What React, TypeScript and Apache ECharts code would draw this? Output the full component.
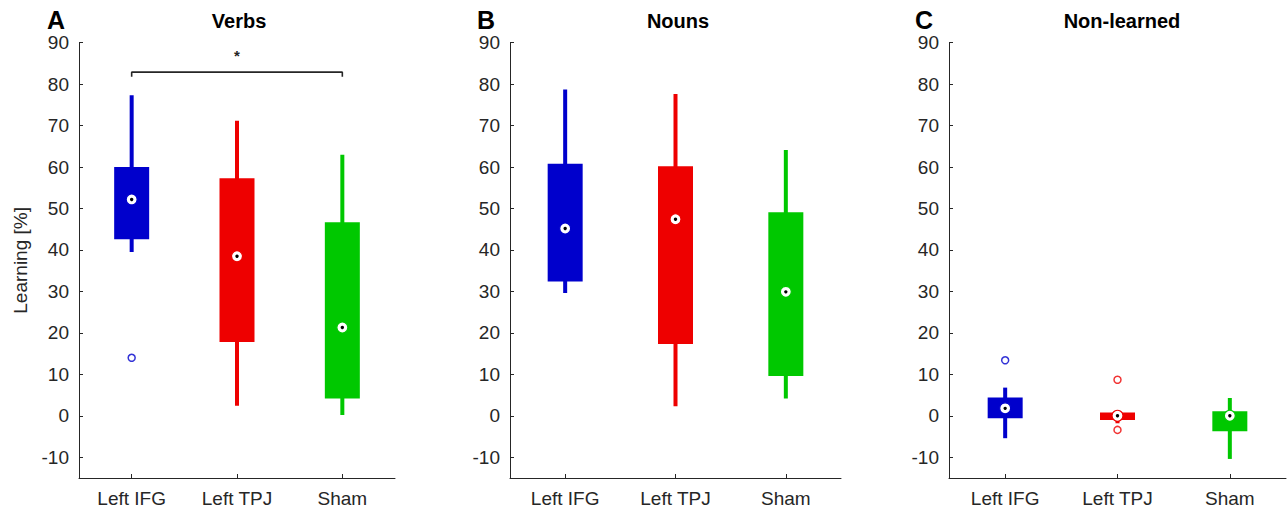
import React, { useEffect, useRef } from "react";
import * as echarts from "echarts";

const categories = ["Left IFG", "Left TPJ", "Sham"];
const groupColors = ["#0000CC", "#EE0000", "#00C800"];
const yTicks = [-10, 0, 10, 20, 30, 40, 50, 60, 70, 80, 90];

// Verbs
const verbsLow = [39.5, 2.4, 0.2];
const verbsQ1 = [42.6, 17.8, 4.2];
const verbsMedian = [52.2, 38.5, 21.3];
const verbsQ3 = [60.0, 57.3, 46.7];
const verbsHigh = [77.3, 71.2, 63.0];
const verbsOutliers: [number, number][] = [[0, 14.0]];

// Nouns
const nounsLow = [29.6, 2.3, 4.2];
const nounsQ1 = [32.4, 17.3, 9.6];
const nounsMedian = [45.2, 47.4, 29.9];
const nounsQ3 = [60.8, 60.2, 49.1];
const nounsHigh = [78.7, 77.6, 64.1];
const nounsOutliers: [number, number][] = [];

// Non-learned
const nonLow = [-5.4, -1.8, -10.4];
const nonQ1 = [-0.6, -1.0, -3.7];
const nonMedian = [1.8, 0.0, 0.0];
const nonQ3 = [4.4, 0.8, 1.1];
const nonHigh = [6.8, 0.8, 4.3];
const nonOutliers: [number, number][] = [[0, 13.4], [1, 8.7], [1, -3.4]];

// Significance bracket (Verbs: Left IFG vs Sham)
const bracketFrom = "Left IFG";
const bracketTo = "Sham";
const bracketTop = 82.9;
const bracketEnd = 81.8;
const starAt = 1; // Left TPJ
const starValue = 87.0;
const starText = "*";

const panelTitles = ["Verbs", "Nouns", "Non-learned"];
const panelLetters = ["A", "B", "C"];

const AXIS = "#262626";
const FONT = "'Liberation Sans', Arial, Helvetica, sans-serif";

function boxData(low: number[], q1: number[], med: number[], q3: number[], high: number[]) {
  return categories.map((_, i) => [i, low[i], q1[i], med[i], q3[i], high[i]]);
}

const renderBox = (params: any, api: any) => {
  const idx = api.value(0);
  const color = groupColors[idx];
  const lowP = api.coord([idx, api.value(1)]);
  const q1P = api.coord([idx, api.value(2)]);
  const medP = api.coord([idx, api.value(3)]);
  const q3P = api.coord([idx, api.value(4)]);
  const highP = api.coord([idx, api.value(5)]);
  const cx = lowP[0];
  const boxW = 35;
  const whW = 4;
  return {
    type: "group",
    children: [
      {
        type: "rect",
        shape: { x: cx - whW / 2, y: highP[1], width: whW, height: lowP[1] - highP[1] },
        style: { fill: color },
      },
      {
        type: "rect",
        shape: { x: cx - boxW / 2, y: q3P[1], width: boxW, height: Math.max(q1P[1] - q3P[1], 1) },
        style: { fill: color },
      },
      {
        type: "circle",
        shape: { cx, cy: medP[1], r: 5.5 },
        style: { fill: "#ffffff", stroke: color, lineWidth: 1.2 },
      },
      {
        type: "circle",
        shape: { cx, cy: medP[1], r: 1.7 },
        style: { fill: "#000000" },
      },
    ],
  };
};

const renderStar = (params: any, api: any) => {
  const p = api.coord([api.value(0), api.value(1)]);
  return {
    type: "text",
    x: p[0],
    y: p[1],
    style: {
      text: starText,
      fill: AXIS,
      font: `bold 15px ${FONT}`,
      textAlign: "center",
      textVerticalAlign: "middle",
    },
  };
};

const grids = [
  { left: 79, top: 42.7, width: 316, height: 435.3 },
  { left: 510, top: 42.7, width: 331, height: 435.3 },
  { left: 949, top: 42.7, width: 337, height: 435.3 },
];

export default function App() {
  const ref = useRef<HTMLDivElement>(null);
  useEffect(() => {
    if (!ref.current) return;
    const chart = echarts.init(ref.current, null, { renderer: "svg" });

    const boxes = [
      boxData(verbsLow, verbsQ1, verbsMedian, verbsQ3, verbsHigh),
      boxData(nounsLow, nounsQ1, nounsMedian, nounsQ3, nounsHigh),
      boxData(nonLow, nonQ1, nonMedian, nonQ3, nonHigh),
    ];
    const outliers = [verbsOutliers, nounsOutliers, nonOutliers];

    const xAxes = grids.map((_, i) => ({
      type: "category",
      gridIndex: i,
      data: categories,
      boundaryGap: true,
      axisLine: { show: true, onZero: false, lineStyle: { color: AXIS, width: 1 } },
      axisTick: { show: true, inside: true, alignWithLabel: true, length: 4, lineStyle: { color: AXIS } },
      axisLabel: { color: AXIS, fontSize: 19, fontFamily: FONT, margin: 11 },
      splitLine: { show: false },
    }));

    const yAxes = grids.map((_, i) => ({
      type: "value",
      gridIndex: i,
      min: -15,
      max: 90,
      axisLine: { show: true, onZero: false, lineStyle: { color: AXIS, width: 1 } },
      axisTick: { show: true, inside: true, length: 4, customValues: yTicks, lineStyle: { color: AXIS } },
      axisLabel: { color: AXIS, fontSize: 19, fontFamily: FONT, margin: 10, customValues: yTicks },
      splitLine: { show: false },
      ...(i === 0
        ? {
            name: "Learning [%]",
            nameLocation: "middle",
            nameGap: 49,
            nameTextStyle: { color: AXIS, fontSize: 19, fontFamily: FONT },
          }
        : {}),
    }));

    const series: any[] = [];
    boxes.forEach((d, i) => {
      series.push({
        type: "custom",
        xAxisIndex: i,
        yAxisIndex: i,
        renderItem: renderBox,
        encode: { x: 0, y: [1, 2, 3, 4, 5] },
        data: d,
        z: 2,
      });
      series.push({
        type: "scatter",
        xAxisIndex: i,
        yAxisIndex: i,
        symbol: "circle",
        symbolSize: 7,
        data: outliers[i].map(([c, v]) => ({
          value: [c, v],
          itemStyle: { color: "#ffffff", borderColor: groupColors[c], borderWidth: 1.5 },
        })),
        z: 3,
      });
    });

    series.push({
      type: "line",
      xAxisIndex: 0,
      yAxisIndex: 0,
      symbol: "none",
      lineStyle: { color: AXIS, width: 1.6 },
      data: [
        [bracketFrom, bracketEnd],
        [bracketFrom, bracketTop],
        [bracketTo, bracketTop],
        [bracketTo, bracketEnd],
      ],
      z: 4,
    });
    series.push({
      type: "custom",
      xAxisIndex: 0,
      yAxisIndex: 0,
      renderItem: renderStar,
      encode: { x: 0, y: 1 },
      data: [[starAt, starValue]],
      z: 4,
    });

    const titleCenters = [239, 678, 1122];
    const letterLefts = [47, 477, 915];
    const graphics: any[] = [];
    panelTitles.forEach((t, i) => {
      graphics.push({
        type: "text",
        x: titleCenters[i],
        y: 21,
        style: {
          text: t,
          fill: "#000",
          font: `bold 20px ${FONT}`,
          textAlign: "center",
          textVerticalAlign: "middle",
        },
      });
      graphics.push({
        type: "text",
        x: letterLefts[i],
        y: 20,
        style: {
          text: panelLetters[i],
          fill: "#000",
          font: `bold 25px ${FONT}`,
          textAlign: "left",
          textVerticalAlign: "middle",
        },
      });
    });

    chart.setOption({
      animation: false,
      backgroundColor: "#ffffff",
      grid: grids,
      xAxis: xAxes,
      yAxis: yAxes,
      series,
      graphic: graphics,
    });
    return () => chart.dispose();
  }, []);

  return (
    <div
      ref={ref}
      style={{ position: "fixed", left: 0, top: 0, width: "1287px", height: "515px" }}
    />
  );
}
